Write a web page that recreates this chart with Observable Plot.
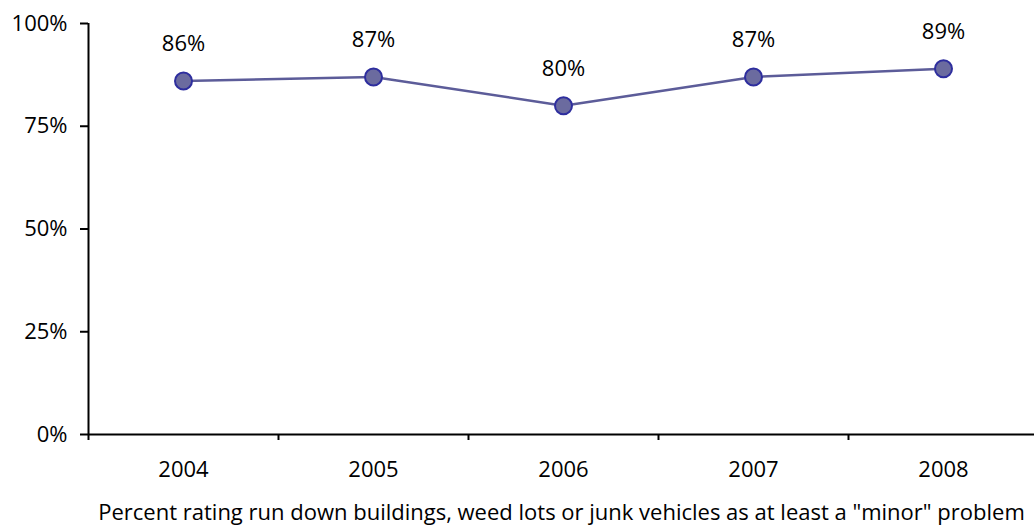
<!DOCTYPE html>
<html>
<head>
<meta charset="utf-8">
<script src="https://cdn.jsdelivr.net/npm/d3@7"></script>
<script src="https://cdn.jsdelivr.net/npm/@observablehq/plot@0.6"></script>
<style>
  html, body { margin: 0; padding: 0; background: #fff; }
  svg { display: block; }
</style>
</head>
<body>
<div id="chart"></div>
<script>
const years = [2004, 2005, 2006, 2007, 2008];
const values = [86, 87, 80, 87, 89];
const yTicks = [0, 25, 50, 75, 100];
const caption = 'Percent rating run down buildings, weed lots or junk vehicles as at least a "minor" problem';

const data = years.map((year, i) => ({year, value: values[i]}));
const boundaries = years.map(y => y - 0.5);

const chart = Plot.plot({
  width: 1034,
  height: 527,
  marginTop: 23,
  marginBottom: 93,
  marginLeft: 88,
  marginRight: 0,
  style: {fontFamily: "'Open Sans', Lato, sans-serif", fontSize: "22px", color: "#000", background: "#fff"},
  x: {domain: [2003.5, 2008.5], range: [88, 1038]},
  y: {domain: [0, 100], range: [434, 23]},
  marks: [
    Plot.axisY({ticks: yTicks, tickFormat: d => d + "%", tickSize: 8, tickPadding: 13, strokeWidth: 2, label: null, fontSize: 22}),
    Plot.axisX({ticks: boundaries, tickFormat: () => "", tickSize: 6, strokeWidth: 2, label: null}),
    Plot.axisX({ticks: years, tickFormat: d => String(d), tickSize: 0, tickPadding: 27, label: null, fontSize: 22}),
    Plot.ruleX([2003.5], {y1: 0, y2: 100, stroke: "#000", strokeWidth: 2}),
    Plot.ruleY([0], {stroke: "#000", strokeWidth: 2}),
    Plot.line(data, {x: "year", y: "value", stroke: "#5c5c99", strokeWidth: 2.5}),
    Plot.dot(data, {x: "year", y: "value", r: 8.5, fill: "#6b6b9f", stroke: "#2e2e9e", strokeWidth: 2}),
    Plot.text(data, {x: "year", y: "value", text: d => d.value + "%", dy: -37, fontSize: 22, fill: "#000"}),
    Plot.text([caption], {frameAnchor: "bottom", dy: 85, fontSize: 22, fill: "#000"})
  ]
});
document.getElementById("chart").appendChild(chart);
</script>
</body>
</html>
